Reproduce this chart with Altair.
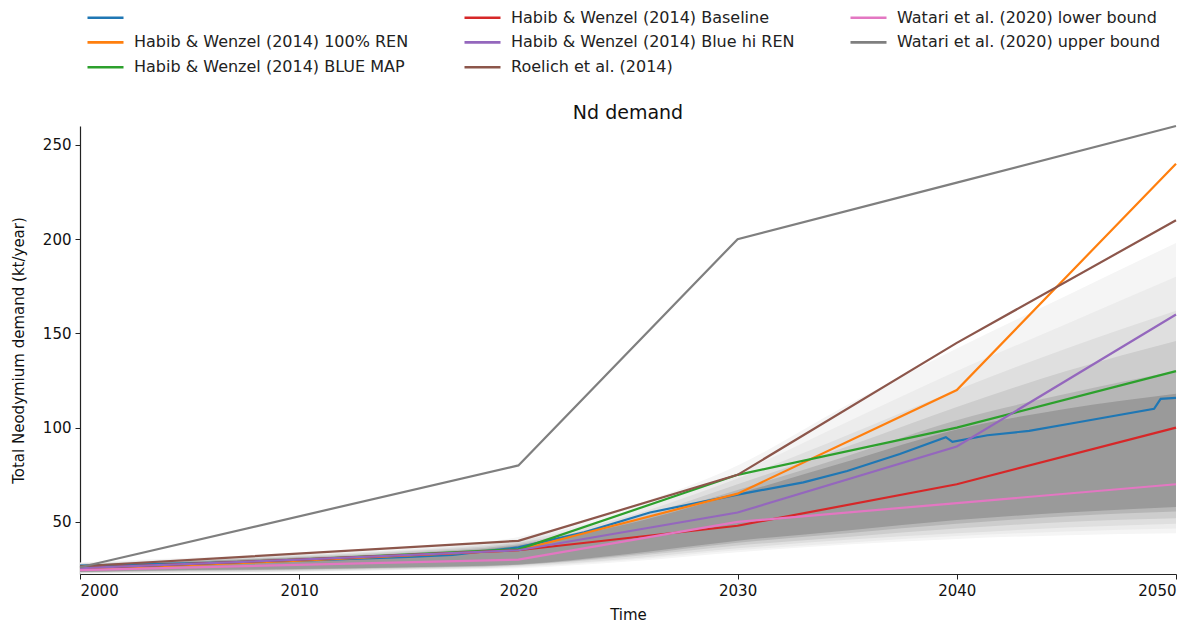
import altair as alt
import pandas as pd

# ---------------- data ----------------
chart_title = "Nd demand"
series_names = [
    "",
    "Habib & Wenzel (2014) 100% REN",
    "Habib & Wenzel (2014) BLUE MAP",
    "Habib & Wenzel (2014) Baseline",
    "Habib & Wenzel (2014) Blue hi REN",
    "Roelich et al. (2014)",
    "Watari et al. (2020) lower bound",
    "Watari et al. (2020) upper bound",
]
series_colors = ["#1f77b4", "#ff7f0e", "#2ca02c", "#d62728",
                 "#9467bd", "#8c564b", "#e377c2", "#7f7f7f"]

mean_years = [2000, 2005, 2010, 2015, 2017, 2020, 2023, 2026, 2030, 2033, 2035,
              2037.4, 2039.5, 2039.8, 2041.4, 2043.3, 2045.6, 2049, 2049.3, 2050]
mean_vals = [26.8, 28, 29.5, 31.5, 32.5, 36.5, 44.5, 55, 64.5, 71, 77,
             86, 95, 92.5, 96, 98.3, 103, 110, 115.3, 115.8]

habib_years = [2000, 2010, 2020, 2030, 2040, 2050]
habib_100ren = [25, 29.5, 35, 65, 120, 240]
habib_bluemap = [25.5, 30, 35.5, 75, 100, 130]
habib_baseline = [25.5, 30, 35, 48, 70, 100]
habib_bluehiren = [25.5, 30, 35, 55, 90, 160]

roelich_years = [2000, 2020, 2030, 2040, 2050]
roelich_vals = [26.5, 40, 75, 145, 210]

watari_years = [2000, 2020, 2030, 2040, 2050]
watari_lower = [24.5, 30, 50, 60, 70]
watari_upper = [26, 80, 200, 230, 260]

# spread of the simulated trajectories (nested envelopes read from the grey cloud)
band_years = [2000, 2005, 2010, 2015, 2020, 2025, 2030, 2035, 2040, 2045, 2050]
band1_lo = [22.5, 23, 23.5, 24.5, 25.5, 29, 34, 38, 41, 43, 44]
band1_hi = [28.5, 31, 33, 36, 42, 58, 80, 112, 142, 170, 198]
band2_lo = [22.8, 23.2, 23.8, 24.8, 26, 29.8, 35, 39, 42.5, 45, 46.5]
band2_hi = [28.2, 30.5, 32.7, 35.5, 41, 55, 76, 103, 130, 155, 180]
band3_lo = [23, 23.5, 24, 25, 26.5, 30.5, 36, 40.5, 44, 47, 49]
band3_hi = [28, 30, 32.3, 35, 40, 53, 73, 96, 120, 142, 162]
band4_lo = [23.2, 24, 24.5, 25.5, 27, 31.5, 37.5, 42, 46.5, 50, 52]
band4_hi = [27.7, 29.7, 31.8, 34.5, 39, 51, 70, 90, 111, 130, 146]
band5_lo = [23.4, 24.2, 24.8, 25.8, 27.3, 32.3, 39, 44, 49, 53, 55.5]
band5_hi = [27.3, 29.3, 31.3, 33.7, 38.2, 50, 67, 85, 104, 118, 130]
core_lo = [23.5, 24.5, 25, 26, 27.5, 33, 40, 45.5, 51, 55, 58]
core_hi = [27, 29, 31, 33, 37.5, 49, 65, 82, 99, 110, 118]

x_ticks = [2000, 2010, 2020, 2030, 2040, 2050]
y_ticks = [50, 100, 150, 200, 250]

# ---------------- tables ----------------
def series_frame(name, xs, ys):
    return pd.DataFrame({"series": name, "year": xs, "value": ys})

lines = pd.concat([
    series_frame(series_names[0], mean_years, mean_vals),
    series_frame(series_names[1], habib_years, habib_100ren),
    series_frame(series_names[2], habib_years, habib_bluemap),
    series_frame(series_names[3], habib_years, habib_baseline),
    series_frame(series_names[4], habib_years, habib_bluehiren),
    series_frame(series_names[5], roelich_years, roelich_vals),
    series_frame(series_names[6], watari_years, watari_lower),
    series_frame(series_names[7], watari_years, watari_upper),
], ignore_index=True)

bands = [
    (band1_lo, band1_hi, "#f5f5f5"),
    (band2_lo, band2_hi, "#ececec"),
    (band3_lo, band3_hi, "#dfdfdf"),
    (band4_lo, band4_hi, "#cdcdcd"),
    (band5_lo, band5_hi, "#b6b6b6"),
    (core_lo, core_hi, "#9a9a9a"),
]

FONT = "DejaVu Sans"

x_enc = alt.X("year:Q", title="Time",
              scale=alt.Scale(domain=[2000, 2050], nice=False, zero=False),
              axis=alt.Axis(values=x_ticks, format="d", grid=False,
                            titleY=40, titleBaseline="middle"))
y_enc = alt.Y("lo:Q", title="Total Neodymium demand (kt/year)",
              scale=alt.Scale(domain=[22.4, 260], nice=False, zero=False),
              axis=alt.Axis(values=y_ticks, grid=False, titleX=-62,
                            titleBaseline="middle"))

layers = []
for lo, hi, col in bands:
    df = pd.DataFrame({"year": band_years, "lo": lo, "hi": hi})
    layers.append(
        alt.Chart(df).mark_area(color=col, interpolate="monotone", opacity=1)
        .encode(x=x_enc, y=y_enc, y2="hi:Q")
    )

line_layer = alt.Chart(lines).mark_line(strokeWidth=2.2).encode(
    x=alt.X("year:Q"),
    y=alt.Y("value:Q"),
    color=alt.Color(
        "series:N",
        scale=alt.Scale(domain=series_names, range=series_colors),
        legend=alt.Legend(
            orient="none", legendX=6, legendY=-119, columns=3,
            gridAlign="each", columnPadding=50, rowPadding=5.9,
            symbolType="M-1,0H3", symbolSize=324, symbolStrokeWidth=2.6,
            labelOffset=27, labelFontSize=16, labelFont=FONT,
            labelColor="#222222", labelLimit=500, title=None, padding=0,
        ),
    ),
)
layers.append(line_layer)

title_layer = alt.Chart(pd.DataFrame({"t": [chart_title]})).mark_text(
    font=FONT, fontSize=19, color="#111111", baseline="middle", align="center"
).encode(text="t:N", x=alt.value(548), y=alt.value(-13))
layers.append(title_layer)

chart = alt.layer(*layers).properties(
    width=1096, height=448,
    autosize=alt.AutoSizeParams(type="none"),
    padding={"left": 72, "top": 118, "right": 17, "bottom": 48},
).configure_view(strokeWidth=0).configure_axis(
    labelFont=FONT, titleFont=FONT, labelFontSize=15, titleFontSize=15,
    labelColor="#111111", titleColor="#111111", titleFontWeight="normal",
    domainColor="#222222", tickColor="#222222", tickSize=5, labelPadding=4,
    domainWidth=1.2,
)

chart.save("out.html", embed_options={"renderer": "svg", "actions": False})
